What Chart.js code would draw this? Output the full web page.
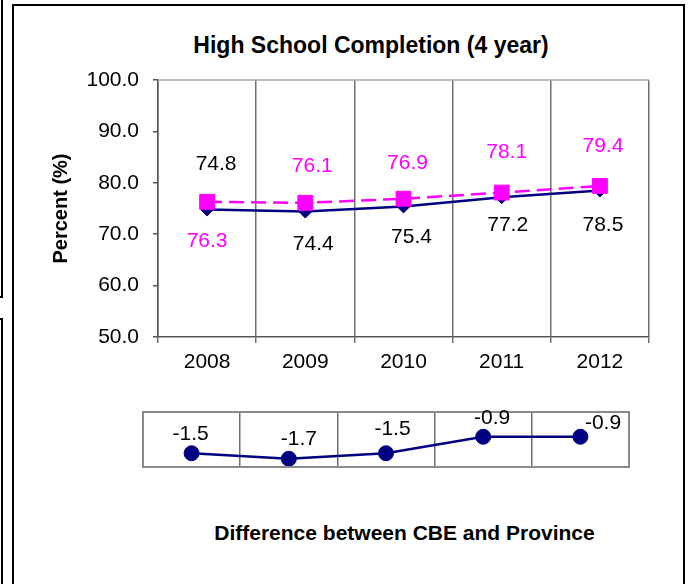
<!DOCTYPE html>
<html>
<head>
<meta charset="utf-8">
<script src="https://cdn.jsdelivr.net/npm/chart.js@4/dist/chart.umd.min.js"></script>
<style>
  html, body { margin: 0; padding: 0; background: #fff; overflow: hidden; }
  body { width: 690px; height: 584px; position: relative; font-family: 'Liberation Sans', Arial, sans-serif; }
  .abs { position: absolute; box-sizing: border-box; }
  #frame { left: 12px; top: 4px; width: 673px; height: 640px; border: 2px solid #000; }
  #sideA { left: -20px; top: -10px; width: 23px; height: 308px; border: 2px solid #000; }
  #sideB { left: -20px; top: 318px; width: 23px; height: 400px; border: 2px solid #000; }
  #title { left: 0; top: 31.7px; width: 742px; text-align: center; font: bold 23px/27px 'Liberation Sans', Arial, sans-serif; color: #000; white-space: nowrap; }
  #subtitle { left: 0; top: 519.7px; width: 809px; text-align: center; font: bold 21px/25px 'Liberation Sans', Arial, sans-serif; color: #000; white-space: nowrap; }
  canvas { position: absolute; }
</style>
</head>
<body>
<div id="sideA" class="abs"></div>
<div id="sideB" class="abs"></div>
<div id="frame" class="abs"></div>
<div id="title" class="abs">High School Completion (4 year)</div>
<div id="subtitle" class="abs">Difference between CBE and Province</div>
<canvas id="main" width="668" height="380" style="left:14px; top:6px;"></canvas>
<canvas id="diff" width="540" height="90" style="left:130px; top:395px;"></canvas>
<script>
// ---- data ----
const years = ['2008', '2009', '2010', '2011', '2012'];
const cbe = [74.8, 74.4, 75.4, 77.2, 78.5];
const province = [76.3, 76.1, 76.9, 78.1, 79.4];
const difference = [-1.5, -1.7, -1.5, -0.9, -0.9];
const yTicks = [50, 60, 70, 80, 90, 100];

// ---- label placement (style, pixel offsets from each point) ----
const cbeLabelOffsets = [[9, -45], [8, 33], [8, 31], [6, 28], [3, 35]];
const provLabelOffsets = [[0, 39], [7, -37], [4, -36], [5, -40.5], [3, -40]];
const diffLabelOffsets = [[-1, -19], [10, -19.5], [6.5, -24.5], [9, -19], [22.6, -13.5]];

const FONT = "'Liberation Sans', Arial, sans-serif";
Chart.defaults.font.family = FONT;
Chart.defaults.color = '#000';

const pointLabels = {
  id: 'pointLabels',
  afterDatasetsDraw(chart) {
    const ctx = chart.ctx;
    ctx.save();
    ctx.font = '21px ' + FONT;
    ctx.textAlign = 'center';
    ctx.textBaseline = 'middle';
    chart.data.datasets.forEach((ds, di) => {
      if (!ds.labelOffsets) return;
      const meta = chart.getDatasetMeta(di);
      ctx.fillStyle = ds.labelColor;
      meta.data.forEach((pt, i) => {
        const off = ds.labelOffsets[i];
        ctx.fillText(ds.data[i].toFixed(1), pt.x + off[0], pt.y + off[1]);
      });
    });
    ctx.restore();
  }
};

const topBorder = {
  id: 'topBorder',
  afterDraw(chart) {
    const a = chart.chartArea, ctx = chart.ctx;
    ctx.save();
    ctx.strokeStyle = '#a8a8a8';
    ctx.lineWidth = 1.5;
    ctx.beginPath();
    ctx.moveTo(a.left, a.top);
    ctx.lineTo(a.right, a.top);
    ctx.stroke();
    ctx.restore();
  }
};

const boxBorder = {
  id: 'boxBorder',
  afterDatasetsDraw(chart) {
    const a = chart.chartArea, ctx = chart.ctx;
    ctx.save();
    ctx.strokeStyle = '#8a8a8a';
    ctx.lineWidth = 2;
    ctx.strokeRect(a.left, a.top, a.right - a.left, a.bottom - a.top);
    ctx.restore();
  }
};

new Chart(document.getElementById('main'), {
  type: 'line',
  data: {
    labels: years,
    datasets: [
      {
        label: 'Province', data: province,
        borderColor: '#ff00ff', backgroundColor: '#ff00ff',
        borderWidth: 2.5, borderDash: [15, 7],
        pointStyle: 'rect', pointRadius: 10.5, pointBorderWidth: 1,
        tension: 0, order: 1,
        labelColor: '#ff00ff', labelOffsets: provLabelOffsets
      },
      {
        label: 'CBE', data: cbe,
        borderColor: '#000080', backgroundColor: '#000080',
        borderWidth: 2.5,
        pointStyle: 'rectRot', pointRadius: 6.5, pointBorderWidth: 1,
        tension: 0, order: 2,
        labelColor: '#000000', labelOffsets: cbeLabelOffsets
      }
    ]
  },
  options: {
    responsive: false,
    animation: false,
    events: [],
    layout: { padding: { left: 0, right: 33, top: 74, bottom: 0 } },
    plugins: { legend: { display: false }, tooltip: { enabled: false }, title: { display: false } },
    scales: {
      x: {
        offset: true,
        grid: {
          offset: true,
          color: c => (c.index === years.length ? '#a8a8a8' : '#707070'),
          lineWidth: 1.5,
          tickLength: 6
        },
        border: { color: '#555555', width: 1.5 },
        ticks: { font: { size: 21 }, color: '#000', padding: 6.4, maxRotation: 0 },
        afterFit: s => { s.height = 49; }
      },
      y: {
        min: 50, max: 100,
        afterBuildTicks: s => { s.ticks = yTicks.map(v => ({ value: v })); },
        ticks: { font: { size: 21 }, color: '#000', padding: 14, callback: v => Number(v).toFixed(1) },
        grid: { drawOnChartArea: false, tickLength: 5, color: '#555555', lineWidth: 1.5 },
        border: { color: '#555555', width: 1.5 },
        title: {
          display: true, text: 'Percent (%)', color: '#000',
          font: { size: 20, weight: 'bold' },
          padding: { top: 35, bottom: 0 }
        },
        afterFit: s => { s.width = 144; }
      }
    }
  },
  plugins: [pointLabels, topBorder]
});

new Chart(document.getElementById('diff'), {
  type: 'line',
  data: {
    labels: years,
    datasets: [
      {
        label: 'Difference', data: difference,
        borderColor: '#000080', backgroundColor: '#000080',
        borderWidth: 2.5, pointStyle: 'circle', pointRadius: 7.5, pointBorderWidth: 1,
        tension: 0, clip: false,
        labelColor: '#000000', labelOffsets: diffLabelOffsets
      }
    ]
  },
  options: {
    responsive: false,
    animation: false,
    events: [],
    layout: { padding: { left: 13, right: 41, top: 17, bottom: 18 } },
    plugins: { legend: { display: false }, tooltip: { enabled: false } },
    scales: {
      x: {
        offset: true,
        grid: { offset: true, color: '#707070', lineWidth: 1.5, drawTicks: false },
        border: { display: false },
        ticks: { display: false },
        afterFit: s => { s.height = 0; }
      },
      y: {
        min: -2, max: 0,
        grid: { display: false },
        border: { display: false },
        ticks: { display: false },
        afterFit: s => { s.width = 0; }
      }
    }
  },
  plugins: [boxBorder, pointLabels]
});
</script>
</body>
</html>
